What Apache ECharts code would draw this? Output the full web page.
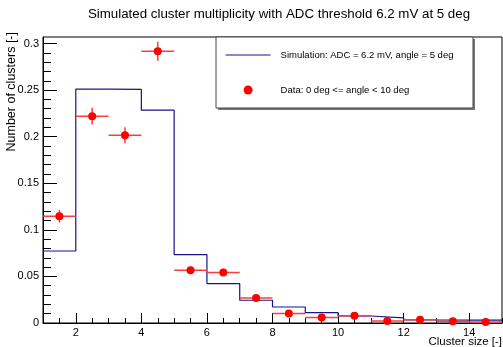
<!DOCTYPE html>
<html>
<head>
<meta charset="utf-8">
<script src="https://cdn.jsdelivr.net/npm/echarts@6/dist/echarts.min.js"></script>
<style>
html,body{margin:0;padding:0;background:#fff;}
#chart{width:503px;height:347px;}
</style>
</head>
<body>
<div id="chart"></div>
<script>
// ---- data ----
const binEdges = [1, 2, 3, 4, 5, 6, 7, 8, 9, 10, 11, 12, 13, 14, 15];
const simValues = [0.0773, 0.251, 0.2507, 0.2285, 0.0735, 0.0423, 0.0244, 0.0172, 0.0111, 0.0075, 0.0054, 0.0032, 0.0030, 0.0030];
const dataValues = [0.1146, 0.222, 0.2016, 0.2918, 0.0566, 0.0541, 0.0269, 0.0101, 0.0058, 0.0079, 0.0021, 0.0036, 0.0018, 0.0010];
const dataErrors = [0.0068, 0.009, 0.0086, 0.0102, 0.0038, 0.0037, 0.0027, 0.0017, 0.0013, 0.0015, 0.0008, 0.0010, 0.0008, 0.0005];
const xTickLabels = [2, 4, 6, 8, 10, 12, 14];
const yTickLabels = [0, 0.05, 0.1, 0.15, 0.2, 0.25, 0.3];
const titleText = 'Simulated cluster multiplicity with ADC threshold 6.2 mV at 5 deg';
const xTitle = 'Cluster size [-]';
const yTitle = 'Number of clusters [-]';
const simName = 'Simulation: ADC = 6.2 mV, angle = 5 deg';
const dataName = 'Data: 0 deg <= angle < 10 deg';

// ---- derived ----
const FONT = '"Liberation Sans", Arial, Helvetica, sans-serif';
const xMin = binEdges[0], xMax = binEdges[binEdges.length - 1];
const yMax = 0.307;
const histData = simValues.map((v, i) => [binEdges[i], v]);
histData.push([binEdges[binEdges.length - 1], simValues[simValues.length - 1]]);
const centers = dataValues.map((v, i) => (binEdges[i] + binEdges[i + 1]) / 2);
const halfW = dataValues.map((v, i) => (binEdges[i + 1] - binEdges[i]) / 2);
const pointData = dataValues.map((v, i) => [centers[i], v]);
const errData = dataValues.map((v, i) => [centers[i], v, dataErrors[i], halfW[i]]);
const xMinor = [];
for (let k = 0; xMin + k * 0.5 <= xMax + 1e-9; k++) xMinor.push(xMin + k * 0.5);
const yMinor = [];
for (let k = 0; k <= 30; k++) yMinor.push(+(k * 0.01).toFixed(2));

const GRID = {left: 43, right: 1, top: 37, bottom: 24};

const chart = echarts.init(document.getElementById('chart'), null, {renderer: 'canvas'});
const option = {
  animation: false,
  backgroundColor: '#ffffff',
  textStyle: {fontFamily: FONT},
  title: {
    text: titleText,
    left: 274, top: 3, textAlign: 'center',
    textStyle: {fontSize: 13.3, fontWeight: 'normal', color: '#000', fontFamily: FONT}
  },
  grid: [
    Object.assign({show: true, borderColor: '#000', borderWidth: 1, backgroundColor: 'transparent'}, GRID),
    Object.assign({show: false}, GRID)
  ],
  legend: {
    orient: 'vertical', left: 225, top: 48, z: 20,
    itemWidth: 45, itemHeight: 9, itemGap: 21,
    padding: 0,
    textStyle: {fontSize: 9.5, color: '#000', fontFamily: FONT, lineHeight: 12, padding: [2, 0, 0, 5]},
    data: [
      {name: simName, itemStyle: {opacity: 0}, lineStyle: {color: '#14148c', width: 1.2}},
      {name: dataName, icon: 'circle'}
    ]
  },
  graphic: [
    {type: 'rect', z: 5, shape: {x: 218, y: 39, width: 257, height: 71}, style: {fill: '#777'}, silent: true},
    {type: 'rect', z: 6, shape: {x: 216, y: 37, width: 257, height: 71}, style: {fill: '#fff', stroke: '#444', lineWidth: 1}, silent: true},
    {type: 'text', z: 10, x: 502, y: 342, style: {text: xTitle, fontSize: 11.5, fontFamily: FONT, fill: '#000', align: 'right', verticalAlign: 'middle'}},
    {type: 'text', z: 10, x: 12, y: 32, rotation: Math.PI / 2, style: {text: yTitle, fontSize: 12.5, fontFamily: FONT, fill: '#000', align: 'right', verticalAlign: 'middle'}}
  ],
  xAxis: [
    {
      type: 'value', min: xMin, max: xMax, position: 'bottom', gridIndex: 0,
      axisLine: {show: true, onZero: false, lineStyle: {color: '#000', width: 1}},
      axisTick: {show: true, inside: true, length: 10, customValues: xTickLabels, lineStyle: {color: '#000'}},
      axisLabel: {show: true, customValues: xTickLabels, margin: 4, fontSize: 11, color: '#000', fontFamily: FONT},
      splitLine: {show: false}
    },
    {
      type: 'value', min: xMin, max: xMax, position: 'bottom', gridIndex: 1,
      axisLine: {show: false, onZero: false},
      axisTick: {show: true, inside: true, length: 5, customValues: xMinor, lineStyle: {color: '#000'}},
      axisLabel: {show: false},
      splitLine: {show: false}
    }
  ],
  yAxis: [
    {
      type: 'value', min: 0, max: yMax, position: 'left', gridIndex: 0,
      axisLine: {show: true, onZero: false, lineStyle: {color: '#000', width: 1}},
      axisTick: {show: true, inside: true, length: 14, customValues: yTickLabels, lineStyle: {color: '#000'}},
      axisLabel: {show: true, customValues: yTickLabels, margin: 4, fontSize: 11, color: '#000', fontFamily: FONT,
        formatter: v => String(v)},
      splitLine: {show: false}
    },
    {
      type: 'value', min: 0, max: yMax, position: 'left', gridIndex: 1,
      axisLine: {show: false, onZero: false},
      axisTick: {show: true, inside: true, length: 8, customValues: yMinor, lineStyle: {color: '#000'}},
      axisLabel: {show: false},
      splitLine: {show: false}
    }
  ],
  series: [
    {
      name: simName, type: 'line', step: 'end', data: histData,
      xAxisIndex: 0, yAxisIndex: 0,
      symbol: 'none', showSymbol: false,
      lineStyle: {color: '#14148c', width: 1.2},
      itemStyle: {color: '#14148c'},
      z: 3
    },
    {
      name: dataName, type: 'custom', data: errData,
      xAxisIndex: 0, yAxisIndex: 0,
      encode: {x: 0, y: 1},
      renderItem: function (params, api) {
        const x = api.value(0), y = api.value(1), e = api.value(2), hw = api.value(3);
        const l = api.coord([x - hw, y]), r = api.coord([x + hw, y]);
        const t = api.coord([x, y + e]), b = api.coord([x, y - e]);
        const st = {stroke: '#ff3b3b', lineWidth: 1.5};
        return {
          type: 'group',
          children: [
            {type: 'line', shape: {x1: l[0], y1: l[1], x2: r[0], y2: r[1]}, style: st},
            {type: 'line', shape: {x1: t[0], y1: t[1], x2: b[0], y2: b[1]}, style: st}
          ]
        };
      },
      itemStyle: {color: '#ff0000'},
      z: 4
    },
    {
      name: dataName, type: 'scatter', data: pointData,
      xAxisIndex: 0, yAxisIndex: 0,
      symbol: 'circle', symbolSize: 8,
      itemStyle: {color: '#ff0000', opacity: 1},
      z: 5
    }
  ]
};
chart.setOption(option);
</script>
</body>
</html>
